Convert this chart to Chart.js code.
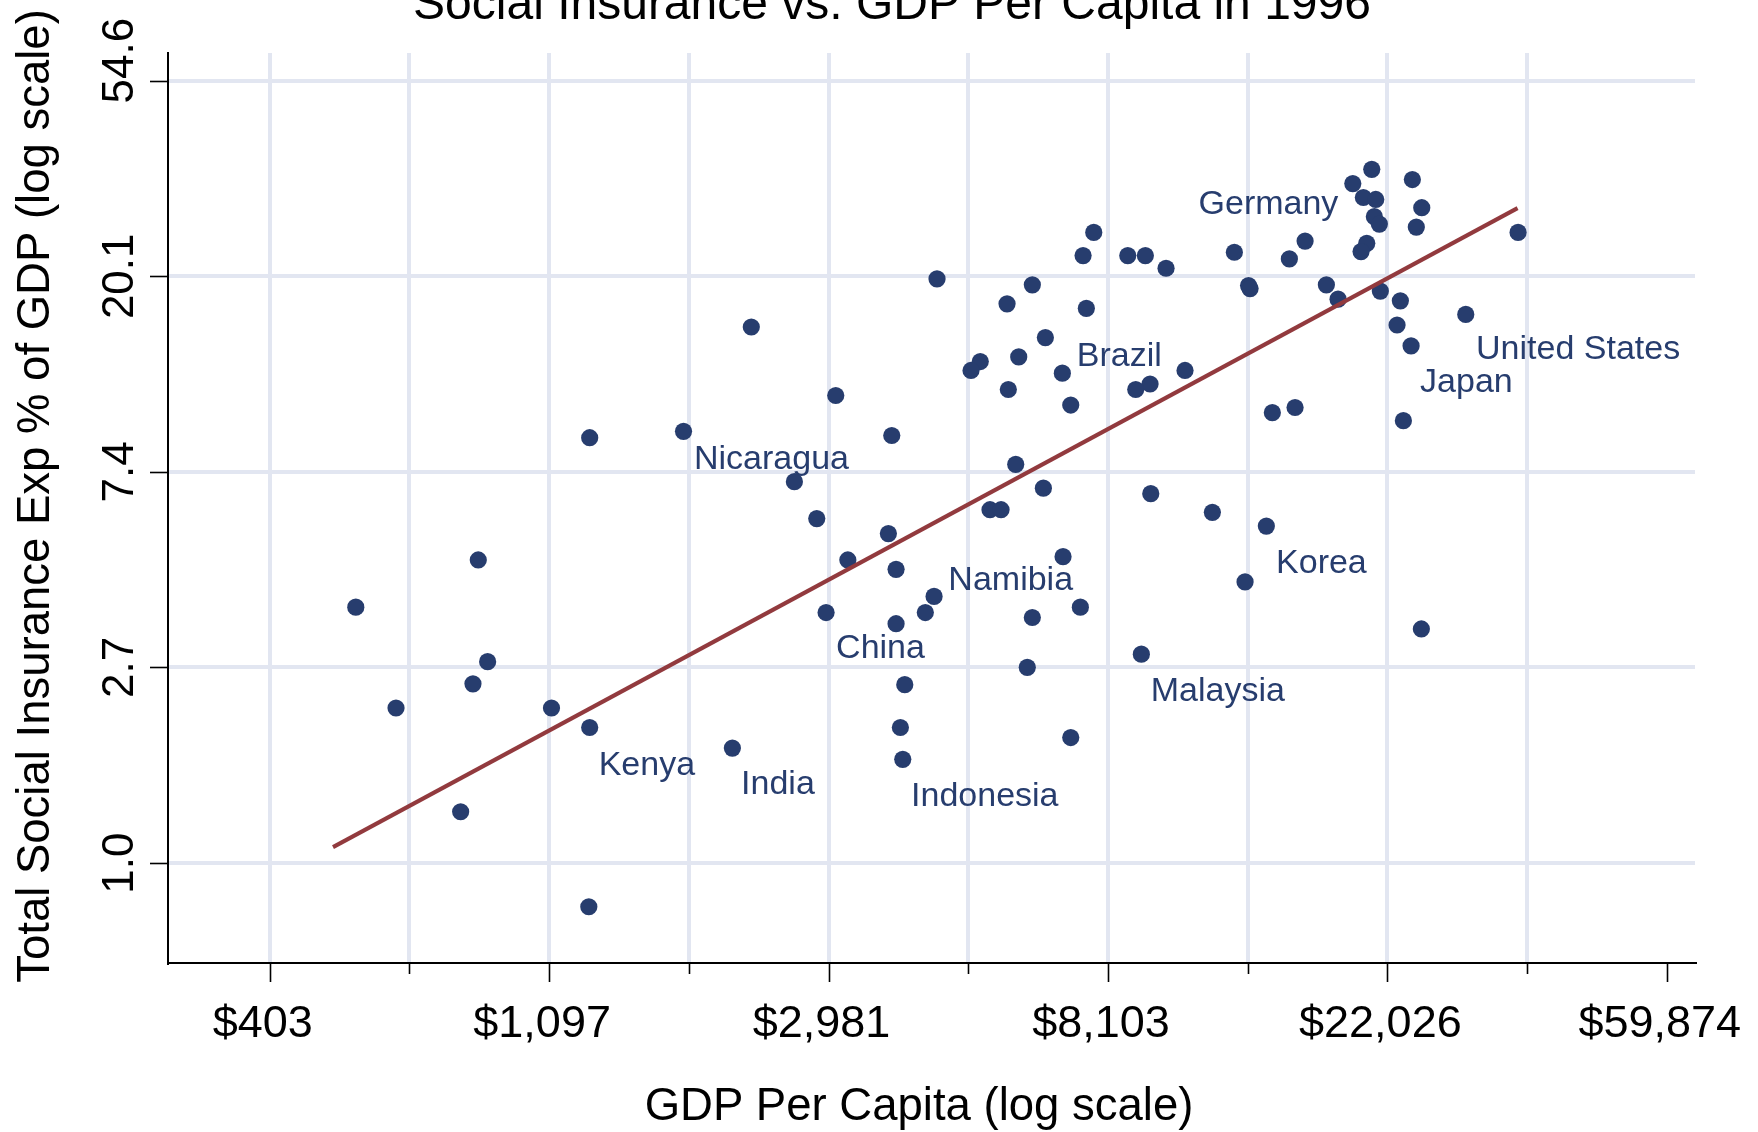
<!DOCTYPE html>
<html>
<head>
<meta charset="utf-8">
<title>Social Insurance vs. GDP Per Capita in 1996</title>
<script src="https://cdn.jsdelivr.net/npm/chart.js@4.4.1/dist/chart.umd.min.js"></script>
<style>
  html, body { margin: 0; padding: 0; background: #ffffff; }
  #wrap { position: relative; width: 1758px; height: 1132px; }
</style>
</head>
<body>
<div id="wrap"><canvas id="chart" width="1758" height="1132"></canvas></div>
<script>
// Country names (only the highlighted ones are named)
const countryLabels = [
  '', '', '', 'Germany', '', '', '', '', '', '',
  '', '', '', '', '', '', '', '', '', '',
  '', '', '', '', '', '', '', '', '', '',
  'United States', '', '', '', 'Japan', '', '', '', '', 'Brazil',
  '', '', '', '', '', '', '', '', 'Nicaragua', '',
  '', '', '', '', '', '', '', '', '', 'Korea',
  '', '', '', '', '', '', 'Namibia', '', '', 'China',
  '', '', '', '', 'Malaysia', '', '', '', '', '',
  '', 'Kenya', '', '', 'India', 'Indonesia', '', ''
];

// GDP per capita, US dollars
const gdpPerCapita = [
  20830, 19463, 24088, 20213, 21130, 24912, 21024, 21405, 24431, 35165,
  7702, 16408, 20460, 20046, 12739, 7413, 8699, 9264, 15511, 9976,
  4395, 17707, 13402, 13475, 6182, 21480, 5647, 7500, 18463, 23075,
  29160, 2261, 22804, 6477, 23977, 5888, 5131, 4964, 10677, 6883,
  9421, 8950, 5673, 3059, 7093, 15830, 14594, 23326, 1774, 1268,
  3738, 5825, 2638, 6431, 9445, 5313, 5527, 11775, 2858, 14284,
  3693, 851, 3194, 6900, 3796, 13236, 4349, 549, 7341, 2955,
  4215, 6182, 3796, 24876, 9132, 880, 6071, 835, 3916, 634,
  1106, 1268, 3855, 7093, 2113, 3888, 799, 1264
];

// Total social insurance expenditure, % of GDP
const socialInsuranceShare = [
  34.71, 32.27, 32.94, 30.05, 29.75, 28.52, 27.24, 26.23, 25.83, 25.14,
  25.14, 24.05, 23.77, 22.79, 22.71, 22.33, 22.33, 22.33, 21.95, 20.93,
  19.82, 19.23, 19.15, 18.86, 19.23, 18.62, 17.45, 17.05, 17.87, 17.72,
  16.53, 15.50, 15.66, 14.68, 14.07, 13.30, 12.99, 12.41, 12.41, 12.24,
  11.58, 11.26, 11.26, 10.92, 10.40, 10.27, 10.00, 9.60, 9.09, 8.80,
  8.90, 7.68, 7.03, 6.80, 6.61, 6.09, 6.09, 6.01, 5.82, 5.60,
  5.39, 4.71, 4.71, 4.79, 4.49, 4.21, 3.91, 3.70, 3.70, 3.60,
  3.60, 3.51, 3.40, 3.31, 2.91, 2.80, 2.72, 2.50, 2.49, 2.21,
  2.21, 2.00, 2.00, 1.90, 1.80, 1.70, 1.30, 0.80
];

// Fitted line endpoints
const fitGdp = [506, 35100];
const fitShare = [1.085, 28.46];

// Axis ticks: natural-log steps, labelled with exp() values
const xTickLogs = [6, 6.5, 7, 7.5, 8, 8.5, 9, 9.5, 10, 10.5, 11];
const xTickLabels = ['$403', '', '$1,097', '', '$2,981', '', '$8,103', '', '$22,026', '', '$59,874'];
const yTickLogs = [0, 1, 2, 3, 4];
const yTickLabels = ['1.0', '2.7', '7.4', '20.1', '54.6'];

const FONT = '"Liberation Sans", Arial, Helvetica, sans-serif';
const NAVY = '#273d6e';
const MAROON = '#923a3e';
const GRID = '#e2e6f1';

const labelPlacement = {
  'Germany':       { dx: -25,  dy: 16.7, align: 'right' },
  'United States': { dx: 10.3, dy: 44.4 },
  'Japan':         { dx: 9,    dy: 46.3 },
  'Brazil':        { dx: 14.4, dy: -6.8 },
  'Nicaragua':     { dx: 10.5, dy: 38 },
  'Namibia':       { dx: 14.3, dy: -6.6 },
  'China':         { dx: 10,   dy: 45.7 },
  'Korea':         { dx: 9.7,  dy: 47.3 },
  'Malaysia':      { dx: 9.4,  dy: 47 },
  'Kenya':         { dx: 9,    dy: 47 },
  'India':         { dx: 8.7,  dy: 46.3 },
  'Indonesia':     { dx: 8.3,  dy: 46.6 }
};

const isMajor = (lg) => Math.abs(lg - Math.round(lg)) < 1e-9;

// Tick marks, rotated y tick labels, marker labels and titles
const decorations = {
  id: 'decorations',
  afterDraw(chart) {
    const ctx = chart.ctx;
    const xs = chart.scales.x, ys = chart.scales.y;
    const area = chart.chartArea;
    ctx.save();

    // tick marks
    ctx.strokeStyle = '#000';
    ctx.lineWidth = 1.6;
    xs.ticks.forEach(t => {
      const px = Math.round(xs.getPixelForValue(t.value)) + 0.5;
      const len = t.major ? 19 : 11;
      ctx.beginPath();
      ctx.moveTo(px, area.bottom);
      ctx.lineTo(px, area.bottom + len);
      ctx.stroke();
    });
    ys.ticks.forEach(t => {
      const py = Math.round(ys.getPixelForValue(t.value)) + 0.5;
      ctx.beginPath();
      ctx.moveTo(area.left - 18, py);
      ctx.lineTo(area.left, py);
      ctx.stroke();
    });

    // y tick labels, rotated; the top one is nudged up to stay clear of the corner
    ctx.fillStyle = '#000';
    ctx.font = '44px ' + FONT;
    ctx.textAlign = 'center';
    ctx.textBaseline = 'middle';
    ys.ticks.forEach((t, i) => {
      const py = ys.getPixelForValue(t.value) + (i === ys.ticks.length - 1 ? -20 : 0);
      ctx.save();
      ctx.translate(121, py);
      ctx.rotate(-Math.PI / 2);
      ctx.fillText(yTickLabels[i], 0, 0);
      ctx.restore();
    });

    // country labels next to their markers
    const meta = chart.getDatasetMeta(1);
    ctx.font = '34px ' + FONT;
    ctx.fillStyle = NAVY;
    ctx.textBaseline = 'alphabetic';
    countryLabels.forEach((name, i) => {
      if (!name) return;
      const pt = meta.data[i];
      const p = labelPlacement[name] || { dx: 9.5, dy: 46 };
      ctx.textAlign = p.align || 'left';
      ctx.fillText(name, pt.x + p.dx, pt.y + p.dy);
    });

    // titles
    ctx.fillStyle = '#000';
    ctx.textAlign = 'center';
    ctx.font = '48px ' + FONT;
    ctx.fillText('Social Insurance vs. GDP Per Capita in 1996', 892, 18.5);
    ctx.font = '45.5px ' + FONT;
    ctx.fillText('GDP Per Capita (log scale)', 919, 1119.5);
    ctx.translate(49, 496);
    ctx.rotate(-Math.PI / 2);
    ctx.fillText('Total Social Insurance Exp % of GDP (log scale)', 0, 0);
    ctx.restore();
  }
};

Chart.defaults.font.family = FONT;
Chart.defaults.color = '#000';

new Chart(document.getElementById('chart'), {
  type: 'scatter',
  data: {
    datasets: [
      {
        type: 'line',
        data: fitGdp.map((g, i) => ({ x: g, y: fitShare[i] })),
        borderColor: MAROON,
        borderWidth: 4,
        pointRadius: 0,
        fill: false,
        tension: 0,
        order: 0
      },
      {
        type: 'scatter',
        data: gdpPerCapita.map((g, i) => ({ x: g, y: socialInsuranceShare[i] })),
        backgroundColor: NAVY,
        borderWidth: 0,
        pointRadius: 8.6,
        order: 1
      }
    ]
  },
  options: {
    responsive: false,
    animation: false,
    devicePixelRatio: 1,
    layout: { padding: { top: 53, right: 63, left: 0, bottom: 0 } },
    plugins: {
      legend: { display: false },
      tooltip: { enabled: false },
      title: { display: false }
    },
    scales: {
      x: {
        type: 'logarithmic',
        position: 'bottom',
        min: Math.exp(5.636),
        max: Math.exp(11.101),
        afterBuildTicks: (s) => {
          s.ticks = xTickLogs.map(lg => ({ value: Math.exp(lg), major: isMajor(lg) }));
        },
        afterFit: (s) => { s.height = 169; },
        grid: {
          color: (c) => (c.tick && Math.log(c.tick.value) > 10.9) ? 'rgba(0,0,0,0)' : GRID,
          lineWidth: 4,
          drawTicks: true,
          tickLength: 34.5,
          tickColor: 'rgba(0,0,0,0)'
        },
        border: { display: true, color: '#000', width: 2 },
        ticks: {
          autoSkip: false,
          maxRotation: 0,
          minRotation: 0,
          padding: 0,
          labelOffset: -7,
          font: { size: 45 },
          color: '#000',
          callback: (v, i) => xTickLabels[i]
        }
      },
      y: {
        type: 'logarithmic',
        position: 'left',
        min: Math.exp(-0.4941),
        max: Math.exp(4.1416),
        afterBuildTicks: (s) => {
          s.ticks = yTickLogs.map(lg => ({ value: Math.exp(lg), major: true }));
        },
        afterFit: (s) => { s.width = 168; },
        grid: { color: GRID, lineWidth: 4, drawTicks: false },
        border: { display: true, color: '#000', width: 2 },
        ticks: { display: false }
      }
    }
  },
  plugins: [decorations]
});
</script>
</body>
</html>
